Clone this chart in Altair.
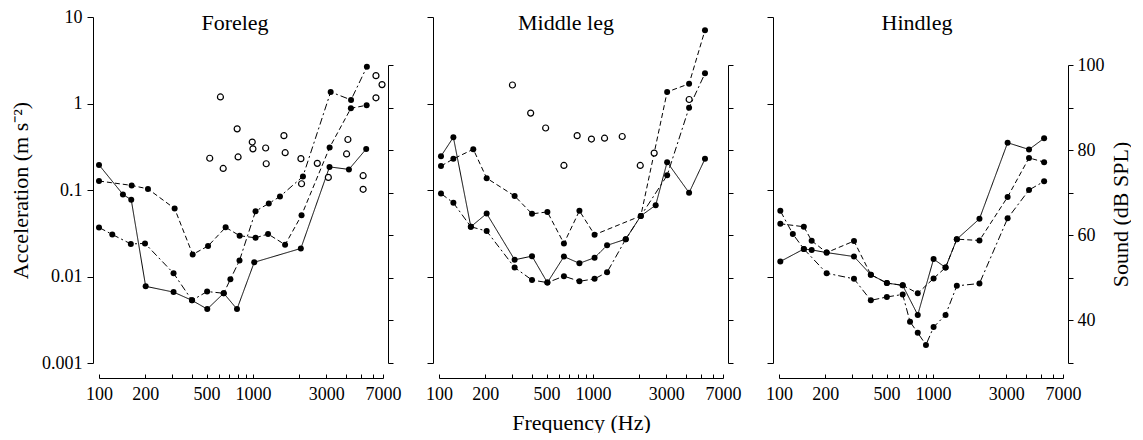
import altair as alt
import pandas as pd

# ---------------- text / ticks ----------------
panel_titles = ["Foreleg", "Middle leg", "Hindleg"]
series_names = ["A", "B", "C"]
x_tick_values = [100, 200, 300, 400, 500, 600, 700, 800, 900, 1000,
                 2000, 3000, 4000, 5000, 6000, 7000]
x_label_values = [100, 200, 500, 1000, 3000, 7000]
y_tick_values = [0.001, 0.01, 0.1, 1, 10]
db_tick_values = [30, 40, 50, 60, 70, 80, 90, 100]
db_label_values = [40, 60, 80, 100]

# ---------------- Foreleg ----------------
fore_a_f = [100, 143, 162, 201, 305, 402, 505, 646, 788, 1020, 2048, 3145, 4204, 5445]
fore_a_v = [0.195, 0.089, 0.077, 0.0077, 0.0066, 0.0053, 0.0042, 0.0064, 0.0042,
            0.0146, 0.0211, 0.185, 0.173, 0.298]
fore_b_f = [100, 163, 208, 310, 406, 511, 665, 820, 1040, 1254, 1618, 2070, 3150, 4330, 5480]
fore_b_v = [0.127, 0.113, 0.103, 0.061, 0.018, 0.0225, 0.037, 0.0296, 0.028, 0.031,
            0.0233, 0.051, 0.31, 0.88, 0.955]
fore_c_f = [100, 122, 161, 199, 305, 402, 504, 646, 714, 818, 1040, 1268, 1499, 2113,
            3200, 4340, 5500]
fore_c_v = [0.0369, 0.0306, 0.0238, 0.0241, 0.0109, 0.0053, 0.0067, 0.0064, 0.0093,
            0.0153, 0.0569, 0.070, 0.084, 0.1436, 1.36, 1.10, 2.66]
fore_snd_f = [524, 641, 615, 801, 790, 990, 1000, 1210, 1220, 1590, 1620, 2050, 2070,
              2620, 3090, 4140, 4060, 5200, 5200, 6300, 6900, 6300]
fore_snd_db = [78.1, 75.7, 92.5, 78.4, 85.0, 81.9, 80.3, 80.5, 76.8, 83.4, 79.4, 78.0,
               72.1, 76.9, 73.6, 82.5, 79.1, 74.0, 70.8, 97.5, 95.4, 92.3]

# ---------------- Middle leg ----------------
mid_a_f = [103, 124, 161, 204, 310, 402, 506, 648, 817, 1025, 1236, 1634, 2047, 2557,
           3035, 4215, 5346]
mid_a_v = [0.246, 0.407, 0.0376, 0.0534, 0.0156, 0.0172, 0.0085, 0.017, 0.0142, 0.0165,
           0.0229, 0.027, 0.0502, 0.0667, 0.21, 0.093, 0.229]
mid_b_f = [103, 124, 167, 204, 310, 402, 506, 648, 817, 1025, 2047, 3035, 4215, 5346]
mid_b_v = [0.189, 0.229, 0.296, 0.137, 0.0853, 0.053, 0.0558, 0.0241, 0.0574, 0.0304,
           0.0502, 1.36, 1.69, 7.03]
mid_c_f = [103, 124, 161, 204, 310, 402, 506, 648, 817, 1025, 1236, 1634, 3035, 4215, 5346]
mid_c_v = [0.091, 0.071, 0.0376, 0.0335, 0.0127, 0.0091, 0.0085, 0.0101, 0.0088, 0.0094,
           0.0112, 0.027, 0.1476, 0.895, 2.23]
mid_snd_f = [300, 394, 493, 648, 790, 978, 1190, 1550, 2030, 2500, 4220]
mid_snd_db = [95.3, 88.7, 85.2, 76.4, 83.4, 82.6, 82.8, 83.2, 76.4, 79.3, 91.9]

# ---------------- Hindleg ----------------
hind_a_f = [102, 145, 163, 204, 307, 395, 502, 636, 797, 1010, 1208, 1430, 2006, 3057,
            4210, 5277]
hind_a_v = [0.0149, 0.0208, 0.0203, 0.0189, 0.017, 0.0105, 0.0084, 0.0079, 0.0036,
            0.0159, 0.0127, 0.027, 0.0464, 0.352, 0.294, 0.396]
hind_b_f = [102, 145, 163, 204, 307, 395, 502, 636, 797, 1010, 1208, 1430, 2006, 3057,
            4210, 5277]
hind_b_v = [0.0407, 0.0376, 0.0259, 0.0189, 0.0257, 0.0105, 0.0084, 0.0079, 0.0064,
            0.0095, 0.0127, 0.027, 0.0261, 0.0831, 0.235, 0.21]
hind_c_f = [102, 123, 145, 204, 307, 395, 502, 636, 710, 797, 901, 1010, 1208, 1430,
            2006, 3057, 4210, 5277]
hind_c_v = [0.0574, 0.031, 0.0208, 0.0109, 0.0094, 0.0053, 0.0058, 0.0062, 0.0030,
            0.00223, 0.00162, 0.0026, 0.0036, 0.0078, 0.0083, 0.047, 0.1, 0.126]
hind_snd_f = [1000]      # invisible anchor for the dB axis
hind_snd_db = [30]

# ---------------- styling ----------------
FONT = "Liberation Serif"
W, H = 284, 346
xs = alt.Scale(type="log", domain=[100, 7000], nice=False)
ys = alt.Scale(type="log", domain=[0.001, 10], nice=False)
dbs = alt.Scale(type="linear", domain=[30, 100], range=[H, 48], nice=False, zero=False)
dash_scale = alt.Scale(domain=series_names, range=[[1, 0], [5, 3], [7, 3, 2, 3]])

x_label_expr = "indexof(" + str(x_label_values) + ", datum.value) >= 0 ? datum.label : ''"
db_label_expr = "indexof(" + str(db_label_values) + ", datum.value) >= 0 ? datum.label : ''"


def x_main(title):
    ax = alt.Axis(values=x_label_values, format="d", labelExpr=x_label_expr, offset=15,
                  orient="bottom",
                  ticks=False, tickSize=0, labelPadding=7, domainColor="black",
                  domainWidth=1, labelFont=FONT, labelFontSize=18, labelColor="black",
                  grid=False, labelFlush=False, labelOverlap=False,
                  titleFont=FONT, titleFontSize=22, titleFontWeight="normal",
                  titleColor="black", titlePadding=9)
    return alt.X("f:Q", scale=xs, axis=ax, title=title)


def x_ticks():
    ax = alt.Axis(values=x_tick_values, offset=11, orient="bottom", domain=False,
                  labels=False, ticks=True, tickSize=4, tickColor="black", tickWidth=1,
                  grid=False)
    return alt.X("f:Q", scale=xs, axis=ax, title=None)


def y_acc(show):
    ax = alt.Axis(values=y_tick_values, orient="left", offset=6, tickSize=6,
                  tickColor="black", domainColor="black", grid=False, labels=show,
                  format="~g", labelFont=FONT, labelFontSize=18, labelColor="black",
                  labelPadding=5, titleFont=FONT, titleFontSize=22,
                  titleFontWeight="normal", titleColor="black", titlePadding=9)
    return alt.Y("a:Q", scale=ys, axis=ax,
                 title=("Acceleration (m s\u207b\u00b2)" if show else None))


def y_db(show):
    ax = alt.Axis(values=db_tick_values, orient="right", offset=5, tickSize=5,
                  tickColor="black", domainColor="black", grid=False, labels=show,
                  labelExpr=db_label_expr, labelFont=FONT, labelFontSize=18,
                  labelColor="black", labelPadding=4, titleFont=FONT, titleFontSize=22,
                  titleFontWeight="normal", titleColor="black", titleAngle=270,
                  titleBaseline="top", titlePadding=6)
    return alt.Y("db:Q", scale=dbs, axis=ax, title=("Sound (dB SPL)" if show else None))


def make_panel(idx, series, snd_f, snd_db, title_x, first, last, xtitle, anchor_only):
    rows = []
    for name, fl, vl in series:
        for i, (f, v) in enumerate(zip(fl, vl)):
            rows.append({"s": name, "f": f, "a": v, "o": i})
    df = pd.DataFrame(rows)
    base = alt.Chart(df)
    lines = base.mark_line(color="black", strokeWidth=1).encode(
        x=x_main(xtitle), y=y_acc(first),
        strokeDash=alt.StrokeDash("s:N", scale=dash_scale, legend=None),
        detail="s:N", order="o:Q")
    pts = base.mark_circle(color="black", size=36, opacity=1).encode(
        x=x_main(xtitle), y=y_acc(first))
    ttl = alt.Chart(pd.DataFrame({"t": [panel_titles[idx]]})).mark_text(
        font=FONT, fontSize=22, align="center", baseline="alphabetic", color="black"
    ).encode(text="t:N", x=alt.value(title_x), y=alt.value(13))
    acc = alt.layer(lines, pts, ttl)

    sdf = pd.DataFrame({"f": snd_f, "db": snd_db})
    snd = alt.Chart(sdf).mark_point(
        shape="circle", filled=True, fill="white", stroke="black", strokeWidth=1.2,
        size=36, opacity=(0 if anchor_only else 1)
    ).encode(x=x_ticks(), y=y_db(last))
    return (alt.layer(acc, snd)
            .resolve_scale(y="independent")
            .resolve_axis(x="independent", y="independent")
            .properties(width=W, height=H))


p1 = make_panel(0, [("A", fore_a_f, fore_a_v), ("B", fore_b_f, fore_b_v),
                    ("C", fore_c_f, fore_c_v)], fore_snd_f, fore_snd_db,
                136, True, False, None, False)
p2 = make_panel(1, [("A", mid_a_f, mid_a_v), ("B", mid_b_f, mid_b_v),
                    ("C", mid_c_f, mid_c_v)], mid_snd_f, mid_snd_db,
                127, False, False, "Frequency (Hz)", False)
p3 = make_panel(2, [("A", hind_a_f, hind_a_v), ("B", hind_b_f, hind_b_v),
                    ("C", hind_c_f, hind_c_v)], hind_snd_f, hind_snd_db,
                138, False, True, None, True)

chart = (alt.hconcat(p1, p2, p3, spacing=56, bounds="flush")
         .properties(padding={"left": 1, "top": 0, "right": 0, "bottom": 0})
         .configure(font=FONT)
         .configure_view(strokeWidth=0))

chart.save("out.html", embed_options={"renderer": "svg", "actions": False})
